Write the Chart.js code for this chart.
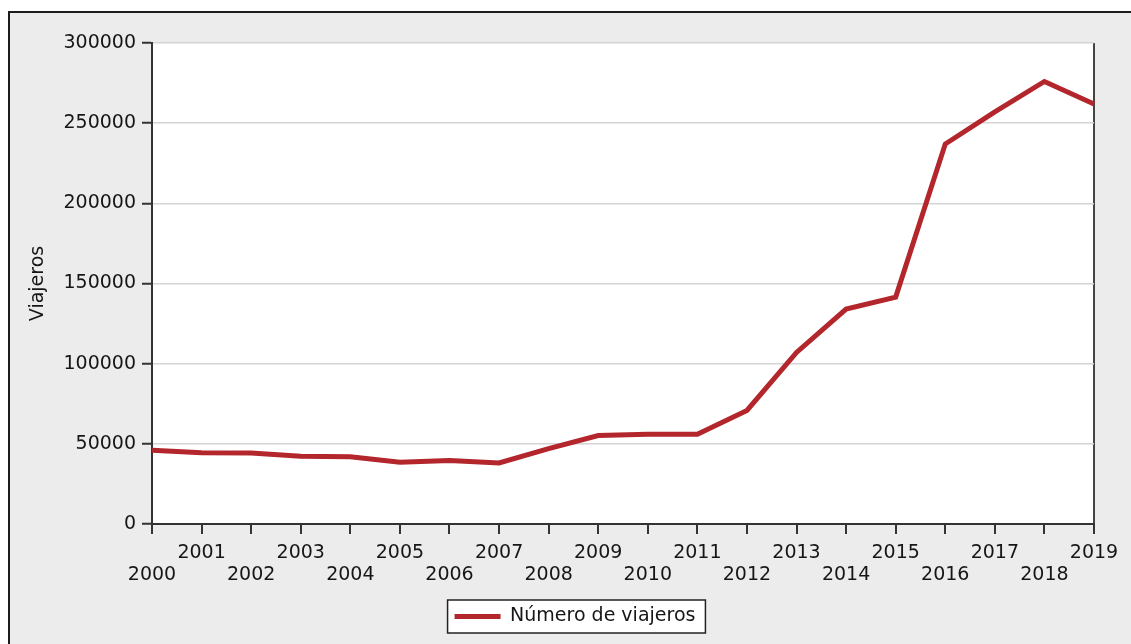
<!DOCTYPE html>
<html>
<head>
<meta charset="utf-8">
<script src="https://cdn.jsdelivr.net/npm/chart.js@4"></script>
<style>
  html, body { margin: 0; padding: 0; background: #fff; }
  #frame {
    position: absolute; left: 8px; top: 11px; width: 1140px; height: 650px;
    border-left: 2px solid #1c1c1c; border-top: 2px solid #1c1c1c;
    background: #ececec;
  }
  #wrap { position: absolute; left: 0; top: 0; width: 1131px; height: 644px; }
</style>
</head>
<body>
<div id="frame"></div>
<div id="wrap"><canvas id="chart"></canvas></div>
<script>
// years on the x axis
const years = ['2000', '2001', '2002', '2003', '2004', '2005', '2006', '2007', '2008', '2009',
  '2010', '2011', '2012', '2013', '2014', '2015', '2016', '2017', '2018', '2019'];

// número de viajeros per year
const viajeros = [46000, 44500, 44300, 42200, 42000, 38500, 39600, 38100, 47000, 55200,
  55900, 56000, 70800, 107000, 134000, 141500, 237000, 257000, 276000, 262000];

const yTicks = [0, 50000, 100000, 150000, 200000, 250000, 300000];

const seriesLabel = 'Número de viajeros';
const yTitle = 'Viajeros';

const FONT = 'DejaVu Sans, Verdana, sans-serif';
const TEXT = '#161616';

// white plot area + box round the legend
const framePlugin = {
  id: 'frame',
  afterLayout(chart) {
    // legend sits a bit right of the centre in the original
    chart.legend.left += 28;
    chart.legend.right += 28;
  },
  beforeDraw(chart) {
    const { ctx, chartArea } = chart;
    ctx.save();
    ctx.fillStyle = '#fff';
    ctx.fillRect(chartArea.left, chartArea.top, chartArea.right - chartArea.left, chartArea.bottom - chartArea.top);
    const hb = chart.legend.legendHitBoxes[0];
    if (hb) {
      ctx.fillRect(hb.left - 7, hb.top - 7, hb.width + 17, hb.height + 14);
    }
    ctx.restore();
  },
  afterDraw(chart) {
    const { ctx } = chart;
    const hb = chart.legend.legendHitBoxes[0];
    if (!hb) return;
    ctx.save();
    ctx.strokeStyle = '#222';
    ctx.lineWidth = 1.5;
    ctx.strokeRect(hb.left - 7, hb.top - 7, hb.width + 17, hb.height + 14);
    ctx.restore();
  }
};

new Chart(document.getElementById('chart'), {
  type: 'line',
  data: {
    labels: years,
    datasets: [{
      label: seriesLabel,
      data: viajeros,
      borderColor: '#b3262c',
      backgroundColor: '#b3262c',
      borderWidth: 5,
      pointRadius: 0,
      tension: 0,
      fill: false
    }]
  },
  options: {
    responsive: true,
    maintainAspectRatio: false,
    animation: false,
    layout: { padding: { left: 0, right: 37, top: 43, bottom: 8 } },
    plugins: {
      tooltip: { enabled: false },
      legend: {
        position: 'bottom',
        labels: {
          usePointStyle: true,
          pointStyle: 'line',
          pointStyleWidth: 46,
          padding: 15,
          color: TEXT,
          font: { family: FONT, size: 19 }
        }
      }
    },
    scales: {
      x: {
        offset: false,
        afterFit(scale) { scale.height = 68; },
        border: { color: '#333', width: 2 },
        grid: {
          drawOnChartArea: true,
          color: ctx => ctx.index === years.length - 1 ? '#444' : 'rgba(0,0,0,0)',
          lineWidth: 2,
          tickColor: '#333',
          tickLength: 10,
          tickWidth: 2
        },
        ticks: {
          autoSkip: false,
          maxRotation: 0,
          padding: 8,
          color: TEXT,
          font: { family: FONT, size: 19, lineHeight: 1.16 },
          callback(value, index) {
            const y = years[index];
            return index % 2 === 0 ? ['', y] : y;
          }
        }
      },
      y: {
        min: 0,
        max: 300000,
        afterFit(scale) { scale.width = 152; },
        afterBuildTicks(scale) { scale.ticks = yTicks.map(v => ({ value: v })); },
        border: { color: '#333', width: 2 },
        grid: {
          color: '#d4d4d4',
          lineWidth: 1.5,
          tickColor: '#333',
          tickLength: 10,
          tickWidth: 2
        },
        ticks: {
          padding: 6,
          color: TEXT,
          font: { family: FONT, size: 19 },
          callback: v => String(v)
        },
        title: {
          display: true,
          text: yTitle,
          color: TEXT,
          padding: { top: 27, bottom: 0 },
          font: { family: FONT, size: 19 }
        }
      }
    }
  },
  plugins: [framePlugin]
});
</script>
</body>
</html>
